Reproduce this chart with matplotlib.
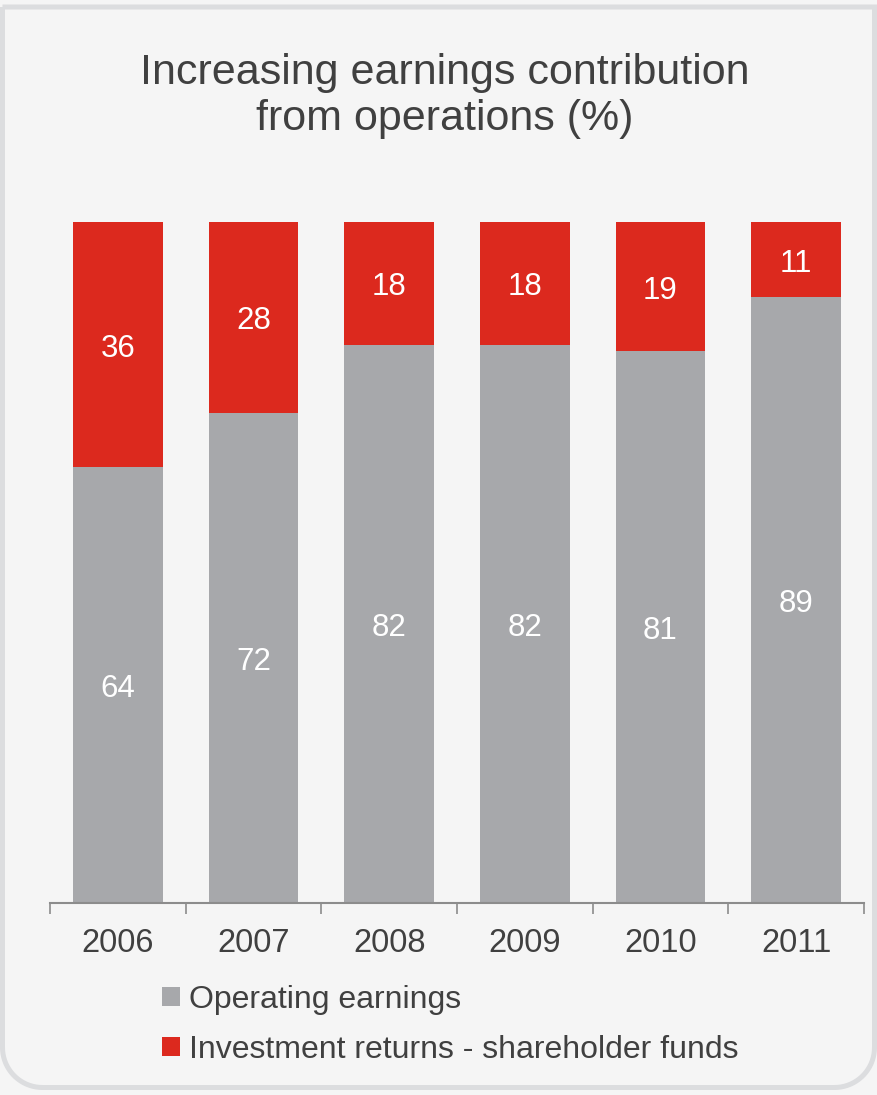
import numpy as np
import matplotlib
matplotlib.use("Agg")
import matplotlib.pyplot as plt
from matplotlib.patches import Patch, PathPatch
from matplotlib.path import Path

years = ["2006", "2007", "2008", "2009", "2010", "2011"]
operating = [64, 72, 82, 82, 81, 89]
investment = [36, 28, 18, 18, 19, 11]
series_names = ["Operating earnings", "Investment returns - shareholder funds"]
title = "Increasing earnings contribution\nfrom operations (%)"

GREY = "#a7a8ab"
RED = "#dc291e"
TEXT = "#404040"
BG = "#f5f5f5"
FRAME = "#dcdddf"

plt.rcParams["font.family"] = ["Liberation Sans", "DejaVu Sans"]

W, H = 877, 1095
fig = plt.figure(figsize=(W / 100, H / 100), dpi=100, facecolor=BG)

# panel frame: square top corners, rounded bottom corners (pixel coords)
r = 40
x0, x1, y0, y1 = 2.5, 874.5, 7, 1087.5  # y measured from top
pts = [(x0, y0), (x1, y0)]
for a in np.linspace(0, np.pi / 2, 20):  # bottom-right corner
    pts.append((x1 - r + r * np.cos(a), y1 - r + r * np.sin(a)))
for a in np.linspace(np.pi / 2, np.pi, 20):  # bottom-left corner
    pts.append((x0 + r + r * np.cos(a), y1 - r + r * np.sin(a)))
pts.append((x0, y0))
verts = [(px / W, 1 - py / H) for px, py in pts]
frame = PathPatch(Path(verts), transform=fig.transFigure, facecolor="none",
                  edgecolor=FRAME, linewidth=3.6, zorder=0)
fig.patches.append(frame)

# axes placement in pixels
ax_left, ax_right, ax_top, ax_bottom = 50, 864, 222, 903
ax = fig.add_axes([ax_left / W, 1 - ax_bottom / H,
                   (ax_right - ax_left) / W, (ax_bottom - ax_top) / H])
ax.set_facecolor("none")

x = np.arange(len(years))
width = 0.66
ax.bar(x, operating, width, color=GREY, label=series_names[0], zorder=2)
ax.bar(x, investment, width, bottom=operating, color=RED,
       label=series_names[1], zorder=2)

for xi, op, inv in zip(x, operating, investment):
    ax.text(xi, op / 2 - 0.6, f"{op}", ha="center", va="center",
            color="white", fontsize=22.5, zorder=3)
    ax.text(xi, op + inv / 2 - 0.6, f"{inv}", ha="center", va="center",
            color="white", fontsize=22.5, zorder=3)

ax.set_xlim(-0.5, len(years) - 0.5)
ax.set_ylim(0, 100)
ax.set_yticks([])
for side in ["left", "right", "top"]:
    ax.spines[side].set_visible(False)
ax.spines["bottom"].set_color("#8c8c8c")
ax.spines["bottom"].set_linewidth(1.5)

# boundary ticks between categories, labels centred under bars
ax.set_xticks(np.arange(-0.5, len(years)), minor=False)
ax.set_xticklabels([])
ax.tick_params(axis="x", which="major", length=8, width=1.2,
               color="#8c8c8c", direction="out")
ax.set_xticks(x, minor=True)
ax.set_xticklabels(years, minor=True)
ax.tick_params(axis="x", which="minor", length=0, pad=18, labelsize=23.5,
               labelcolor=TEXT)

fig.text(445 / W, 1 - 96 / H, title, ha="center", va="center",
         fontsize=31, color=TEXT, linespacing=1.17)

handles = [Patch(facecolor=GREY), Patch(facecolor=RED)]
leg = fig.legend(handles, series_names, loc="upper left",
                 bbox_to_anchor=(162 / W, 1 - 985 / H), frameon=False,
                 fontsize=23, handlelength=0.55, handleheight=0.55,
                 handletextpad=0.28, labelspacing=0.62, borderpad=0,
                 borderaxespad=0)
for t in leg.get_texts():
    t.set_color(TEXT)

fig.savefig("out.png", dpi=100, facecolor=BG)
